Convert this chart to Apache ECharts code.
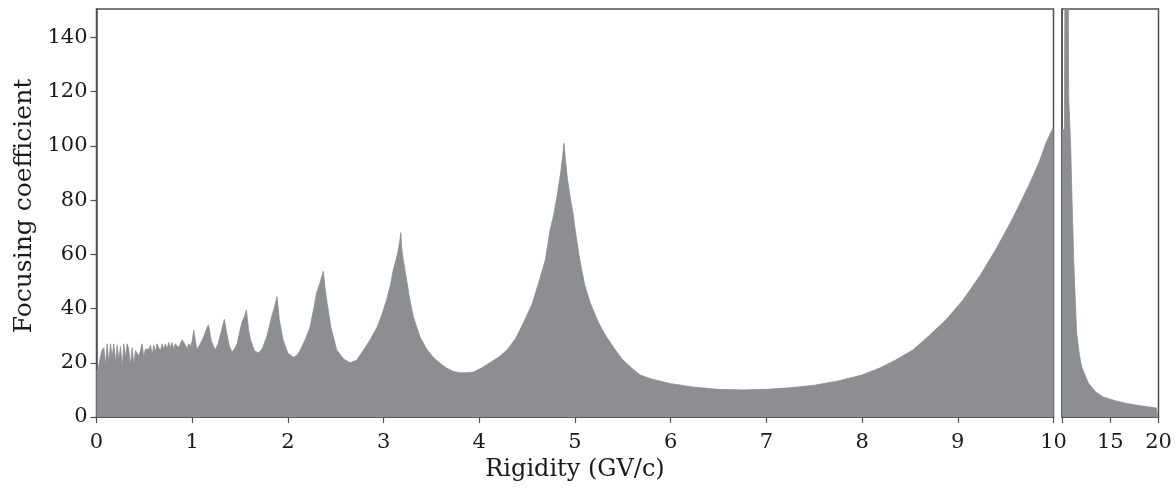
<!DOCTYPE html>
<html>
<head>
<meta charset="utf-8">
<title>Focusing coefficient</title>
<script src="https://cdn.jsdelivr.net/npm/echarts@6/dist/echarts.min.js"></script>
<style>
	html, body { margin: 0; padding: 0; background: #fff; }
	#main { width: 1176px; height: 495px; }
</style>
</head>
<body>
<div id="main"></div>
<script>
// 左图：0-10 GV/c
var rigidity = [
	0.000, 0.020, 0.040, 0.059, 0.077, 0.094, 0.111, 0.129, 0.146, 0.163,
	0.181, 0.198, 0.216, 0.233, 0.251, 0.268, 0.285, 0.303, 0.320, 0.337,
	0.355, 0.372, 0.390, 0.407, 0.424, 0.442, 0.459, 0.477, 0.494, 0.511,
	0.529, 0.546, 0.564, 0.581, 0.598, 0.616, 0.633, 0.650, 0.668, 0.685,
	0.703, 0.720, 0.737, 0.755, 0.772, 0.790, 0.807, 0.824, 0.842, 0.859,
	0.877, 0.894, 0.911, 0.929, 0.946, 0.964, 0.981, 1.000, 1.016, 1.033,
	1.050, 1.085, 1.120, 1.155, 1.17, 1.20, 1.24, 1.27, 1.30, 1.336,
	1.36, 1.39, 1.416, 1.44, 1.47, 1.50, 1.52, 1.545, 1.566, 1.59, 1.61,
	1.65, 1.69, 1.73, 1.78, 1.83, 1.86, 1.886, 1.91, 1.95, 2.00, 2.06,
	2.10, 2.13, 2.18, 2.23, 2.27, 2.30, 2.34, 2.37, 2.39, 2.41, 2.45, 2.51, 2.58,
	2.65, 2.72, 2.79, 2.86, 2.93, 2.98, 3.03, 3.07, 3.10, 3.13, 3.15, 3.17, 3.18, 3.19, 3.21,
	3.24, 3.27, 3.31, 3.38, 3.45, 3.52, 3.59, 3.66, 3.73, 3.80, 3.87,
	3.94, 4.02, 4.11, 4.20, 4.29, 4.38, 4.46, 4.55, 4.63, 4.69,
	4.74, 4.78, 4.81, 4.85, 4.87, 4.885, 4.90, 4.92, 4.95, 4.98, 5.01, 5.05, 5.10, 5.16, 5.25,
	5.33, 5.42, 5.50, 5.60, 5.68, 5.80, 6.00, 6.25, 6.50, 6.75,
	7.00, 7.25, 7.50, 7.75, 8.00, 8.18, 8.35, 8.53, 8.70, 8.88,
	9.05, 9.23, 9.40, 9.57, 9.75, 9.85, 9.92, 10.00
];
var focusing = [
	17, 18, 22, 24.7, 25.5, 19, 27, 20, 27, 22,
	27, 20, 26.5, 21, 26, 18, 27, 22, 27, 25,
	19, 25.5, 19.5, 24.5, 24, 22.5, 24.5, 27, 22, 25,
	25, 25, 26.5, 23, 26.5, 24, 27, 25.5, 24.5, 27,
	25, 27, 25, 27.5, 25.5, 27.5, 25, 27, 27.5, 25.5,
	26, 28.5, 27.5, 26.5, 25, 27, 26, 28, 32, 28,
	25, 27, 29.5, 33, 34, 28, 24.7, 27, 31, 36,
	31, 26, 24, 25, 27, 32, 35, 37, 39.5, 32, 28.4,
	24.5, 23.6, 25, 29.7, 37, 40.5, 44.4, 36, 28.4, 23.5, 22,
	23, 24.7, 28.5, 33, 40, 45.8, 50, 53.7, 47, 42, 33, 24.7, 21.5,
	20, 21, 24.7, 28.5, 33, 37.5, 43, 48.5, 54, 58, 61, 65, 68, 62, 57,
	50.6, 44, 37, 29.6, 25, 22, 19.8, 18, 16.8, 16.3, 16.3,
	16.6, 18, 20, 22, 24.7, 29, 34.7, 41.5, 50.6, 58,
	69, 75, 81, 90, 96, 101, 95, 88, 81, 75, 67, 58, 49, 42, 34.5,
	29.5, 24.8, 21, 17.8, 15.5, 14, 12.3, 11, 10.2, 10,
	10.2, 10.8, 11.7, 13.3, 15.5, 18, 21, 24.7, 30, 36,
	43, 52, 62, 73, 86, 94, 101, 107
];

// 右图：10-20 GV/c
var tailRigidity = [10.00, 10.25, 10.30, 10.65, 10.70, 10.90, 11.04, 11.24, 11.52, 11.80, 12.04, 12.73, 13.50, 14.28, 15.50, 16.70, 18.00, 19.80, 20.00];
var tailFocusing = [106, 106, 158, 158, 117, 100, 80, 55, 31, 23, 18.5, 12.5, 9.2, 7.4, 6, 5, 4.2, 3.3, 3.2];

var yTicks = [0, 20, 40, 60, 80, 100, 120, 140];
var leftTicks = [0, 1, 2, 3, 4, 5, 6, 7, 8, 9, 10];
var rightTicks = [10, 15, 20];
var rightLabels = [15, 20];

var fillColor = '#8d8e92';
var axisColor = '#505050';
var textColor = '#1a1a1a';
var font = "'DejaVu Serif', serif";

function pairs(xs, ys) {
	var out = [];
	for (var i = 0; i < xs.length; i++) {
		out.push([xs[i], ys[i]]);
	}
	return out;
}

var axisLineStyle = { show: true, lineStyle: { color: axisColor, width: 1.5 } };
var tickLine = { color: axisColor, width: 1.2 };

var myChart = echarts.init(document.getElementById('main'));
myChart.setOption({
	animation: false,
	backgroundColor: '#fff',
	grid: [{
			left: 96.5,
			top: 9,
			width: 957,
			height: 408,
			show: true,
			borderColor: axisColor,
			borderWidth: 1.5
		},
		{
			left: 1062,
			top: 9,
			width: 96.5,
			height: 408,
			show: true,
			borderColor: axisColor,
			borderWidth: 1.5
		}
	],
	xAxis: [{
			type: 'value',
			gridIndex: 0,
			min: 0,
			max: 10,
			interval: 1,
			name: 'Rigidity (GV/c)',
			nameLocation: 'middle',
			nameGap: 41,
			nameTextStyle: { fontFamily: font, fontSize: 24, color: textColor },
			axisLine: axisLineStyle,
			axisTick: { show: true, length: 6, customValues: leftTicks, lineStyle: tickLine },
			axisLabel: { customValues: leftTicks, margin: 15, fontFamily: font, fontSize: 21, color: textColor },
			splitLine: { show: false }
		},
		{
			type: 'value',
			gridIndex: 1,
			min: 10,
			max: 20,
			interval: 5,
			axisLine: axisLineStyle,
			axisTick: { show: true, length: 6, customValues: rightTicks, lineStyle: tickLine },
			axisLabel: { customValues: rightLabels, margin: 15, fontFamily: font, fontSize: 21, color: textColor },
			splitLine: { show: false }
		}
	],
	yAxis: [{
			type: 'value',
			gridIndex: 0,
			min: 0,
			max: 150.5,
			interval: 20,
			name: 'Focusing coefficient',
			nameLocation: 'middle',
			nameGap: 54,
			nameTextStyle: { fontFamily: font, fontSize: 25, color: textColor, padding: [0, 0, 0, 14] },
			axisLine: axisLineStyle,
			axisTick: { show: true, length: 6, customValues: yTicks, lineStyle: tickLine },
			axisLabel: { customValues: yTicks, margin: 9, fontFamily: font, fontSize: 21, color: textColor },
			splitLine: { show: false }
		},
		{
			type: 'value',
			gridIndex: 1,
			min: 0,
			max: 150.5,
			axisLine: axisLineStyle,
			axisTick: { show: false },
			axisLabel: { show: false },
			splitLine: { show: false }
		}
	],
	series: [{
			name: 'low',
			type: 'line',
			xAxisIndex: 0,
			yAxisIndex: 0,
			data: pairs(rigidity, focusing),
			showSymbol: false,
			clip: true,
			lineStyle: { color: fillColor, width: 0.8 },
			areaStyle: { color: fillColor, opacity: 1 }
		},
		{
			name: 'high',
			type: 'line',
			xAxisIndex: 1,
			yAxisIndex: 1,
			data: pairs(tailRigidity, tailFocusing),
			showSymbol: false,
			clip: true,
			lineStyle: { color: fillColor, width: 0.8 },
			areaStyle: { color: fillColor, opacity: 1 }
		}
	]
});
</script>
</body>
</html>
